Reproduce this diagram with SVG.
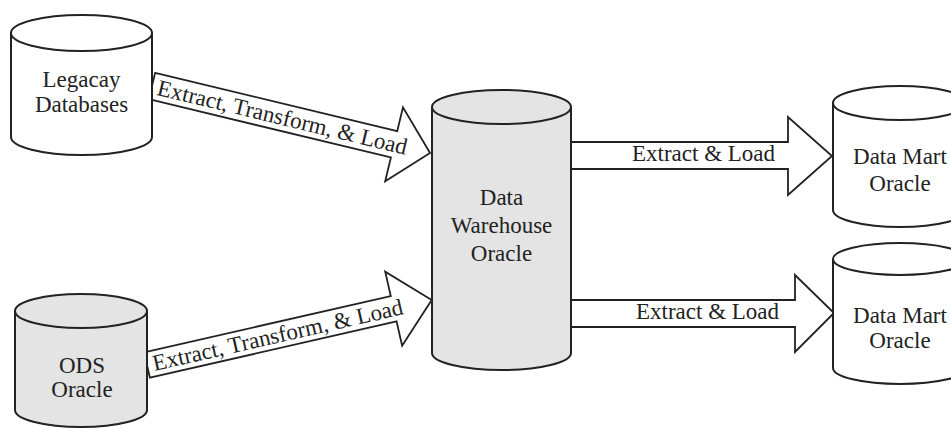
<svg xmlns="http://www.w3.org/2000/svg" width="951" height="428" viewBox="0 0 951 428">
<style>
.cyl{stroke:#222;stroke-width:2;fill:#fff}
.gray{fill:#e4e4e4}
.arr{stroke:#222;stroke-width:1.8;fill:#fff;stroke-linejoin:miter}
text{font-family:"Liberation Serif","Times New Roman",serif;font-size:23px;fill:#222}
.c{text-anchor:middle}
</style>
<rect width="951" height="428" fill="#fff"/>
<g id="connectors">
  <g id="etl1" transform="translate(152,86) rotate(13.55)">
    <polygon class="arr" points="0,-13.5 249,-13.5 249,-38 286,0 249,38 249,13.5 0,13.5"/>
    <text x="6" y="7.5">Extract, Transform, &amp; Load</text>
  </g>
  <g id="etl2" transform="translate(147,365) rotate(-12.85)">
    <polygon class="arr gray" points="0,-13 253,-13 253,-38 292,0 253,38 253,13 0,13"/>
    <text x="6" y="7.5">Extract, Transform, &amp; Load</text>
  </g>
  <g id="el1">
    <polygon class="arr" points="571,142 788,142 788,117 832,156 788,195 788,169 571,169"/>
    <text x="632" y="161">Extract &amp; Load</text>
  </g>
  <g id="el2">
    <polygon class="arr" points="571,300 795,300 795,275 834,313 795,352 795,327 571,327"/>
    <text x="636" y="319">Extract &amp; Load</text>
  </g>
</g>
<g id="legacy">
  <path class="cyl" d="M11,33 V137 A70.5,18 0 0 0 152,137 V33"/>
  <ellipse class="cyl" cx="81.5" cy="33" rx="70.5" ry="18"/>
  <text class="c" x="81.5" y="87">Legacay</text>
  <text class="c" x="81.5" y="112">Databases</text>
</g>
<g id="ods">
  <path class="cyl gray" d="M15,311 V410 A66,17 0 0 0 147,410 V311"/>
  <ellipse class="cyl gray" cx="81" cy="311" rx="66" ry="17"/>
  <text class="c" x="82" y="373">ODS</text>
  <text class="c" x="82" y="397">Oracle</text>
</g>
<g id="warehouse">
  <path class="cyl gray" d="M432,107 V353 A69.5,17 0 0 0 571,353 V107"/>
  <ellipse class="cyl gray" cx="501.5" cy="107" rx="69.5" ry="17"/>
  <text class="c" x="501.5" y="205">Data</text>
  <text class="c" x="501.5" y="233">Warehouse</text>
  <text class="c" x="501.5" y="261">Oracle</text>
</g>
<g id="mart1">
  <path class="cyl" d="M833,103 V210 A67,17 0 0 0 967,210 V103"/>
  <ellipse class="cyl" cx="900" cy="103" rx="67" ry="17"/>
  <text class="c" x="900" y="164">Data Mart</text>
  <text class="c" x="900" y="191">Oracle</text>
</g>
<g id="mart2">
  <path class="cyl" d="M833,259 V368 A67,16 0 0 0 967,368 V259"/>
  <ellipse class="cyl" cx="900" cy="259" rx="67" ry="16"/>
  <text class="c" x="900" y="323">Data Mart</text>
  <text class="c" x="900" y="348">Oracle</text>
</g>
</svg>
